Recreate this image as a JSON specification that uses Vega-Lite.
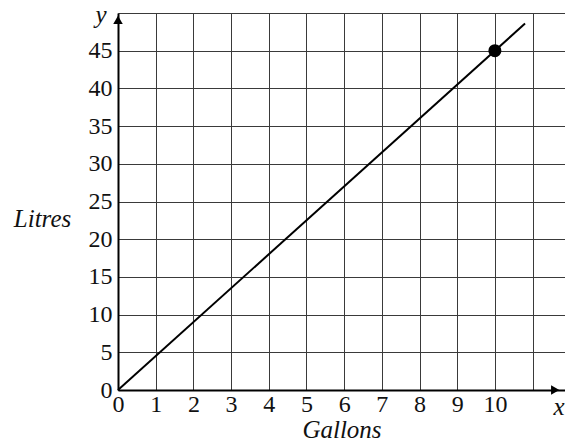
{
  "$schema": "https://vega.github.io/schema/vega-lite/v6.json",
  "width": 447,
  "height": 377,
  "autosize": {"type": "none"},
  "padding": {"left": 118, "top": 13, "right": 0, "bottom": 57},
  "background": "white",
  "config": {
    "view": {"stroke": null},
    "font": "Liberation Serif"
  },
  "datasets": {
    "line": [{"gallons": 0, "litres": 0}, {"gallons": 10.8, "litres": 48.6}],
    "pt": [{"gallons": 10, "litres": 45}],
    "lbl": [{"gallons": 11.7, "litres": -2.2, "t": "x"}, {"gallons": -0.45, "litres": 49.7, "t": "y"}]
  },
  "encoding": {
    "x": {
      "field": "gallons", "type": "quantitative",
      "scale": {"domain": [0, 11.86], "nice": false, "zero": false},
      "axis": {
        "values": [0, 1, 2, 3, 4, 5, 6, 7, 8, 9, 10, 11],
        "labelExpr": "datum.value == 11 ? '' : datum.label",
        "labelOverlap": false, "labelFlush": false, "labelBound": false,
        "grid": true, "gridColor": "#3a3a3a", "gridWidth": 1, "gridOpacity": 1,
        "domainColor": "black", "domainWidth": 2,
        "ticks": false, "labelPadding": 2,
        "labelFont": "Liberation Serif", "labelFontSize": 24, "labelColor": "#111",
        "title": "Gallons", "titleFont": "Liberation Serif", "titleFontSize": 25,
        "titleFontStyle": "italic", "titleFontWeight": "normal", "titleColor": "#111",
        "titlePadding": 1
      }
    },
    "y": {
      "field": "litres", "type": "quantitative",
      "scale": {"domain": [0, 50], "nice": false},
      "axis": {
        "values": [0, 5, 10, 15, 20, 25, 30, 35, 40, 45, 50],
        "labelExpr": "datum.value == 50 ? '' : datum.label",
        "labelOverlap": false, "labelFlush": false, "labelBound": false,
        "grid": true, "gridColor": "#3a3a3a", "gridWidth": 1, "gridOpacity": 1,
        "domainColor": "black", "domainWidth": 2,
        "ticks": false, "labelPadding": 6,
        "labelFont": "Liberation Serif", "labelFontSize": 24, "labelColor": "#111",
        "title": "Litres", "titleFont": "Liberation Serif", "titleFontSize": 25,
        "titleFontStyle": "italic", "titleFontWeight": "normal", "titleColor": "#111",
        "titleAngle": 0, "titleX": -76, "titleY": 205, "titleAlign": "center", "titleBaseline": "middle"
      }
    }
  },
  "layer": [
    {
      "data": {"name": "line"},
      "mark": {"type": "line", "color": "black", "strokeWidth": 2}
    },
    {
      "data": {"name": "pt"},
      "mark": {"type": "point", "filled": true, "color": "black", "size": 170, "opacity": 1}
    },
    {
      "data": {"values": [{"gallons": 0, "litres": 49.1}]},
      "mark": {"type": "point", "shape": "triangle-up", "filled": true, "color": "black", "size": 90, "opacity": 1, "clip": false}
    },
    {
      "data": {"values": [{"gallons": 11.6, "litres": 0}]},
      "mark": {"type": "point", "shape": "triangle-right", "filled": true, "color": "black", "size": 90, "opacity": 1, "clip": false}
    },
    {
      "data": {"name": "lbl"},
      "mark": {"type": "text", "font": "Liberation Serif", "fontSize": 25, "fontStyle": "italic", "color": "#111", "align": "center", "baseline": "middle", "clip": false},
      "encoding": {
        "text": {"field": "t"}
      }
    }
  ]
}
